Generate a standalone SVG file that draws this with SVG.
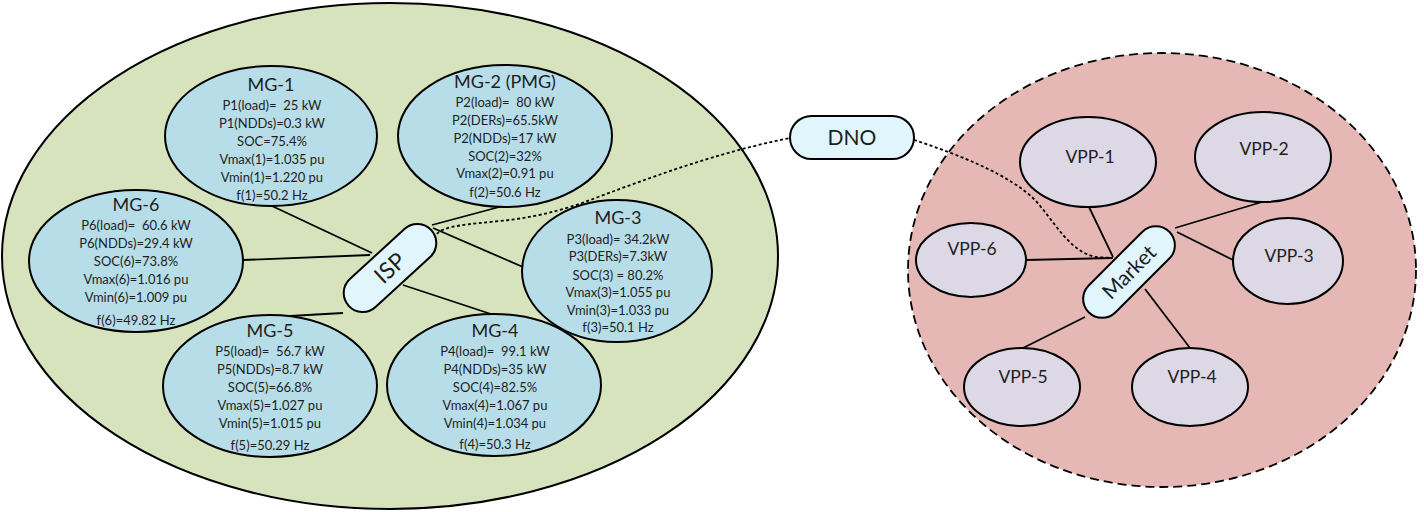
<svg xmlns="http://www.w3.org/2000/svg" width="1424" height="512" viewBox="0 0 1424 512">
  <style>
    text { font-family: Lato, "Open Sans", "Liberation Sans", sans-serif; fill: #1e1e1e; text-anchor: middle; white-space: pre; }
    .title { font-size: 18px; }
    .val { font-size: 13px; }
    .big { font-size: 21px; }
    .hubtxt { font-size: 23px; }
    .vpp { font-size: 17.5px; }
    .mg { fill: #b7dde8; stroke: #000; stroke-width: 2; }
    .vp { fill: #ddd8e5; stroke: #000; stroke-width: 2; }
    .hub { fill: #e0f6fc; stroke: #000; stroke-width: 2; }
    .link { stroke: #000; stroke-width: 1.8; fill: none; }
    .dot { stroke: #000; stroke-width: 1.8; fill: none; stroke-dasharray: 3 2.5; }
  </style>

  <!-- regions -->
  <g id="microgrid-area">
    <ellipse cx="390" cy="256" rx="388" ry="253" fill="#d7e3bd" stroke="#000" stroke-width="2"/>
  </g>
  <g id="market-area">
    <ellipse cx="1162" cy="270" rx="254" ry="217" fill="#e5b8b6" stroke="#000" stroke-width="1.8" stroke-dasharray="9 5"/>
  </g>

  <!-- connectors -->
  <g id="connectors">
    <line class="link" x1="272" y1="206" x2="372" y2="253"/>
    <line class="link" x1="243" y1="260" x2="370" y2="255"/>
    <line class="link" x1="343" y1="313" x2="290" y2="316"/>
    <line class="link" x1="503" y1="206" x2="432" y2="225"/>
    <line class="link" x1="433" y1="228" x2="523" y2="267"/>
    <line class="link" x1="403" y1="285" x2="497" y2="316"/>

    <line class="link" x1="1089" y1="207" x2="1113" y2="257"/>
    <line class="link" x1="1262" y1="202" x2="1175" y2="228"/>
    <line class="link" x1="1233" y1="260" x2="1177" y2="232"/>
    <line class="link" x1="1026" y1="260" x2="1113" y2="258"/>
    <line class="link" x1="1023" y1="348" x2="1085" y2="317"/>
    <line class="link" x1="1190" y1="348" x2="1145" y2="289"/>

    <path class="dot" d="M437,234 C442,226 470,224 500,221 C530,218 560,212 598,197 C660,174 720,152 790,138"/>
    <path class="dot" d="M914,140 C960,155 1010,175 1035,200 C1055,222 1068,250 1095,257 L1113,258"/>
  </g>

  <!-- microgrids -->
  <g id="mg-1">
    <ellipse class="mg" cx="271" cy="136" rx="106" ry="70"/>
    <text class="title" x="271" y="91">MG-1</text>
    <text class="val" x="272" y="110">P1(load)=  25 kW</text>
    <text class="val" x="272" y="128">P1(NDDs)=0.3 kW</text>
    <text class="val" x="272" y="146">SOC=75.4%</text>
    <text class="val" x="272" y="164">Vmax(1)=1.035 pu</text>
    <text class="val" x="272" y="182">Vmin(1)=1.220 pu</text>
    <text class="val" x="272" y="200">f(1)=50.2 Hz</text>
  </g>
  <g id="mg-2">
    <ellipse class="mg" cx="505" cy="136" rx="107" ry="71"/>
    <text class="title" x="505" y="88">MG-2 (PMG)</text>
    <text class="val" x="505" y="107">P2(load)=  80 kW</text>
    <text class="val" x="505" y="125">P2(DERs)=65.5kW</text>
    <text class="val" x="505" y="143">P2(NDDs)=17 kW</text>
    <text class="val" x="505" y="161">SOC(2)=32%</text>
    <text class="val" x="505" y="178">Vmax(2)=0.91 pu</text>
    <text class="val" x="505" y="197">f(2)=50.6 Hz</text>
  </g>
  <g id="mg-6">
    <ellipse class="mg" cx="136" cy="261" rx="107" ry="71"/>
    <text class="title" x="136" y="211">MG-6</text>
    <text class="val" x="136" y="230">P6(load)=  60.6 kW</text>
    <text class="val" x="136" y="248">P6(NDDs)=29.4 kW</text>
    <text class="val" x="136" y="266">SOC(6)=73.8%</text>
    <text class="val" x="136" y="284">Vmax(6)=1.016 pu</text>
    <text class="val" x="136" y="302">Vmin(6)=1.009 pu</text>
    <text class="val" x="136" y="325">f(6)=49.82 Hz</text>
  </g>
  <g id="mg-3">
    <ellipse class="mg" cx="617" cy="271" rx="95" ry="71"/>
    <text class="title" x="618" y="224">MG-3</text>
    <text class="val" x="618" y="244">P3(load)= 34.2kW</text>
    <text class="val" x="618" y="261">P3(DERs)=7.3kW</text>
    <text class="val" x="618" y="280">SOC(3) = 80.2%</text>
    <text class="val" x="618" y="297">Vmax(3)=1.055 pu</text>
    <text class="val" x="618" y="315">Vmin(3)=1.033 pu</text>
    <text class="val" x="618" y="332">f(3)=50.1 Hz</text>
  </g>
  <g id="mg-5">
    <ellipse class="mg" cx="270" cy="386" rx="107" ry="71"/>
    <text class="title" x="270" y="337">MG-5</text>
    <text class="val" x="270" y="356">P5(load)=  56.7 kW</text>
    <text class="val" x="270" y="374">P5(NDDs)=8.7 kW</text>
    <text class="val" x="270" y="392">SOC(5)=66.8%</text>
    <text class="val" x="270" y="410">Vmax(5)=1.027 pu</text>
    <text class="val" x="270" y="428">Vmin(5)=1.015 pu</text>
    <text class="val" x="270" y="450">f(5)=50.29 Hz</text>
  </g>
  <g id="mg-4">
    <ellipse class="mg" cx="494" cy="385" rx="107" ry="71"/>
    <text class="title" x="495" y="337">MG-4</text>
    <text class="val" x="495" y="356">P4(load)=  99.1 kW</text>
    <text class="val" x="495" y="374">P4(NDDs)=35 kW</text>
    <text class="val" x="495" y="392">SOC(4)=82.5%</text>
    <text class="val" x="495" y="410">Vmax(4)=1.067 pu</text>
    <text class="val" x="495" y="428">Vmin(4)=1.034 pu</text>
    <text class="val" x="495" y="449">f(4)=50.3 Hz</text>
  </g>

  <!-- hubs -->
  <g id="isp" transform="translate(390 268) rotate(-42.5)">
    <rect class="hub" x="-56" y="-19" width="112" height="38" rx="19"/>
    <text class="hubtxt" x="0" y="8">ISP</text>
  </g>
  <g id="dno">
    <rect class="hub" x="790" y="116" width="124" height="43" rx="21.5"/>
    <text class="big" x="852" y="145">DNO</text>
  </g>
  <g id="market" transform="translate(1129 272) rotate(-45)">
    <rect class="hub" x="-57" y="-19" width="114" height="38" rx="19"/>
    <text class="big" x="0" y="7.5">Market</text>
  </g>

  <!-- virtual power plants -->
  <g id="vpp-1">
    <ellipse class="vp" cx="1088" cy="162" rx="68" ry="45"/>
    <text class="vpp" x="1090" y="163">VPP-1</text>
  </g>
  <g id="vpp-2">
    <ellipse class="vp" cx="1263" cy="157" rx="68" ry="45"/>
    <text class="vpp" x="1264" y="155">VPP-2</text>
  </g>
  <g id="vpp-3">
    <ellipse class="vp" cx="1288" cy="261" rx="55" ry="43"/>
    <text class="vpp" x="1289" y="262">VPP-3</text>
  </g>
  <g id="vpp-6">
    <ellipse class="vp" cx="971" cy="260" rx="55" ry="37"/>
    <text class="vpp" x="972" y="255">VPP-6</text>
  </g>
  <g id="vpp-5">
    <ellipse class="vp" cx="1022" cy="387" rx="58" ry="39"/>
    <text class="vpp" x="1023" y="383">VPP-5</text>
  </g>
  <g id="vpp-4">
    <ellipse class="vp" cx="1190" cy="387" rx="58" ry="39"/>
    <text class="vpp" x="1192" y="383">VPP-4</text>
  </g>
</svg>
